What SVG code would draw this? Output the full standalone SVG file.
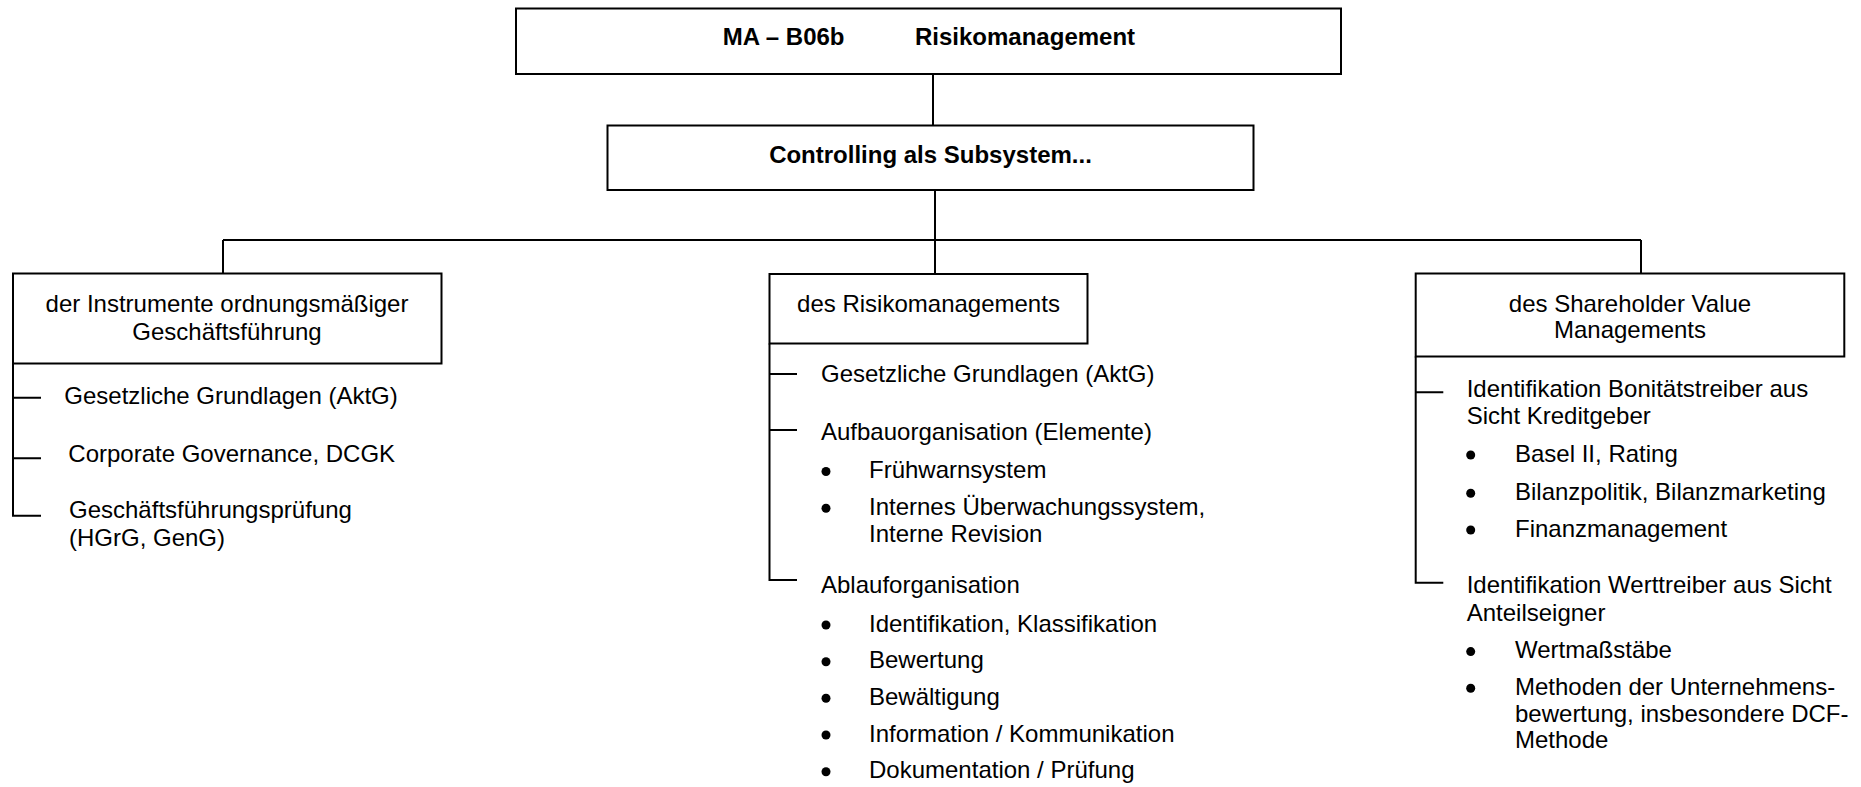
<svg xmlns="http://www.w3.org/2000/svg" width="1861" height="787" viewBox="0 0 1861 787">
<style>
.box{fill:#fff;stroke:#000;stroke-width:2}
.ln{stroke:#000;stroke-width:2;fill:none}
text{font-family:"Liberation Sans",Arial,sans-serif;font-size:24px;fill:#000}
.b{font-weight:bold}
.c{text-anchor:middle}
</style>
<defs>
<circle id="dot" r="4.5" fill="#000"/>
</defs>
<rect width="1861" height="787" fill="#fff"/>
<g id="connectors">
<path class="ln" d="M933 74V126M935 190V240M223 240H1641M223 240V274M935 240V274M1641 240V274"/>
<path class="ln" d="M13 363.5V515.7H41M13 397.7H41M13 458.3H41"/>
<path class="ln" d="M769.5 343.5V580H797M769.5 374H797M769.5 430H797"/>
<path class="ln" d="M1415.7 356.5V582.7H1443.3M1415.7 392.3H1443.3"/>
</g>
<g id="top">
<rect class="box" x="516" y="8.5" width="825" height="65.5"/>
<text class="b" x="722.7" y="45">MA – B06b</text>
<text class="b" x="915" y="45">Risikomanagement</text>
</g>
<g id="controlling">
<rect class="box" x="607.5" y="125.5" width="646" height="64.5"/>
<text class="b c" x="930.5" y="163.3">Controlling als Subsystem...</text>
</g>
<g id="instrumente">
<rect class="box" x="13" y="273.5" width="428.5" height="90"/>
<text class="c" x="227" y="311.7">der Instrumente ordnungsmäßiger</text>
<text class="c" x="227" y="340">Geschäftsführung</text>
</g>
<g id="instrumente-items">
<text x="64.3" y="404">Gesetzliche Grundlagen (AktG)</text>
<text x="68.3" y="461.7">Corporate Governance, DCGK</text>
<text x="69" y="518">Geschäftsführungsprüfung</text>
<text x="69" y="546">(HGrG, GenG)</text>
</g>
<g id="risiko">
<rect class="box" x="769.5" y="274" width="318" height="69.5"/>
<text class="c" x="928.5" y="312">des Risikomanagements</text>
</g>
<g id="risiko-items">
<text x="821" y="381.7">Gesetzliche Grundlagen (AktG)</text>
<text x="821" y="440">Aufbauorganisation (Elemente)</text>
<use href="#dot" x="826" y="471.5"/><text x="869" y="478.3">Frühwarnsystem</text>
<use href="#dot" x="826" y="508.3"/><text x="869" y="515">Internes Überwachungssystem,</text>
<text x="869" y="541.7">Interne Revision</text>
<text x="821" y="593.3">Ablauforganisation</text>
<use href="#dot" x="826" y="625"/><text x="869" y="631.7">Identifikation, Klassifikation</text>
<use href="#dot" x="826" y="661.7"/><text x="869" y="668.3">Bewertung</text>
<use href="#dot" x="826" y="698.3"/><text x="869" y="705">Bewältigung</text>
<use href="#dot" x="826" y="735"/><text x="869" y="741.7">Information / Kommunikation</text>
<use href="#dot" x="826" y="771.7"/><text x="869" y="778.3">Dokumentation / Prüfung</text>
</g>
<g id="shareholder">
<rect class="box" x="1415.7" y="273.5" width="428.6" height="83"/>
<text class="c" x="1630" y="311.7">des Shareholder Value</text>
<text class="c" x="1630" y="338.3">Managements</text>
</g>
<g id="shareholder-items">
<text x="1466.7" y="396.7">Identifikation Bonitätstreiber aus</text>
<text x="1466.7" y="424">Sicht Kreditgeber</text>
<use href="#dot" x="1470.7" y="455"/><text x="1515" y="461.7">Basel II, Rating</text>
<use href="#dot" x="1470.7" y="493.3"/><text x="1515" y="500">Bilanzpolitik, Bilanzmarketing</text>
<use href="#dot" x="1470.7" y="530"/><text x="1515" y="536.7">Finanzmanagement</text>
<text x="1466.7" y="593.3">Identifikation Werttreiber aus Sicht</text>
<text x="1466.7" y="620.7">Anteilseigner</text>
<use href="#dot" x="1470.7" y="651.6"/><text x="1515" y="658.3">Wertmaßstäbe</text>
<use href="#dot" x="1470.7" y="688.3"/><text x="1515" y="695">Methoden der Unternehmens-</text>
<text x="1515" y="722.3">bewertung, insbesondere DCF-</text>
<text x="1515" y="748.3">Methode</text>
</g>
</svg>
